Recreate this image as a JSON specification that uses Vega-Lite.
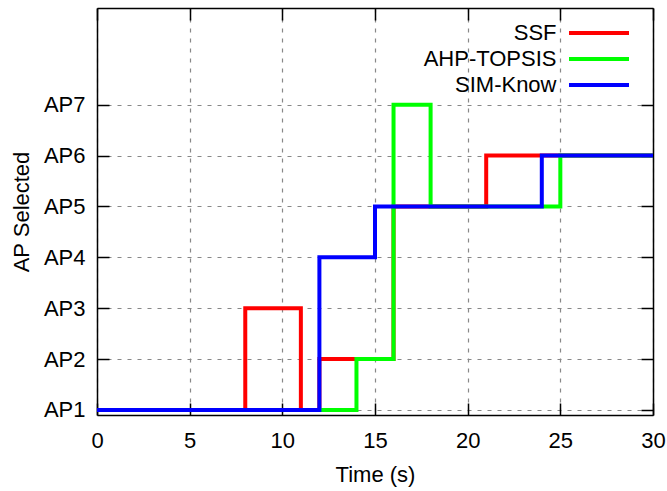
{
  "$schema": "https://vega.github.io/schema/vega-lite/v6.json",
  "width": 556,
  "height": 407,
  "autosize": {"type": "none"},
  "padding": {"left": 97, "top": 8, "right": 14, "bottom": 76},
  "config": {
    "font": "Liberation Sans",
    "view": {"stroke": null},
    "axis": {
      "domainColor": "black",
      "domainWidth": 1.5,
      "tickColor": "black",
      "tickWidth": 1.5,
      "tickSize": -12,
      "labelColor": "black",
      "labelFontSize": 22,
      "titleColor": "black",
      "titleFontSize": 22,
      "titleFontWeight": "normal",
      "gridColor": "#888888",
      "gridDash": [4, 6],
      "gridWidth": 1.2
    }
  },
  "data": {
    "values": [
      {"series": "SSF", "t": 0, "ap": 1},
      {"series": "SSF", "t": 8, "ap": 3},
      {"series": "SSF", "t": 11, "ap": 1},
      {"series": "SSF", "t": 12, "ap": 2},
      {"series": "SSF", "t": 16, "ap": 5},
      {"series": "SSF", "t": 21, "ap": 6},
      {"series": "SSF", "t": 30, "ap": 6},
      {"series": "AHP-TOPSIS", "t": 0, "ap": 1},
      {"series": "AHP-TOPSIS", "t": 14, "ap": 2},
      {"series": "AHP-TOPSIS", "t": 16, "ap": 7},
      {"series": "AHP-TOPSIS", "t": 18, "ap": 5},
      {"series": "AHP-TOPSIS", "t": 25, "ap": 6},
      {"series": "AHP-TOPSIS", "t": 30, "ap": 6},
      {"series": "SIM-Know", "t": 0, "ap": 1},
      {"series": "SIM-Know", "t": 12, "ap": 4},
      {"series": "SIM-Know", "t": 15, "ap": 5},
      {"series": "SIM-Know", "t": 24, "ap": 6},
      {"series": "SIM-Know", "t": 30, "ap": 6}
    ]
  },
  "layer": [
    {
      "encoding": {
        "x": {
          "field": "t", "type": "quantitative",
          "scale": {"domain": [0, 30]},
          "axis": {
            "orient": "bottom",
            "values": [0, 5, 10, 15, 20, 25, 30],
            "grid": true,
            "labelPadding": 27,
            "labelFlush": false,
            "labelAngle": 0,
            "title": "Time (s)",
            "titlePadding": 13
          }
        },
        "y": {
          "field": "ap", "type": "quantitative",
          "scale": {"domain": [0.9, 8.9]},
          "axis": {
            "orient": "left",
            "values": [1, 2, 3, 4, 5, 6, 7],
            "labelExpr": "'AP' + datum.value",
            "grid": true,
            "labelPadding": 24,
            "title": "AP Selected",
            "titlePadding": 10
          }
        },
        "color": {
          "field": "series", "type": "nominal",
          "scale": {"domain": ["SSF", "AHP-TOPSIS", "SIM-Know"], "range": ["#ff0000", "#00ff00", "#0000ff"]},
          "legend": {
            "orient": "none",
            "legendX": 491,
            "legendY": 14,
            "title": null,
            "padding": 0,
            "symbolType": "M-6,0H6",
            "symbolSize": 100,
            "symbolStrokeWidth": 4,
            "labelFontSize": 22,
            "labelColor": "black",
            "labelAlign": "right",
            "labelOffset": -53.5,
            "rowPadding": 4
          }
        },
        "strokeWidth": {
          "field": "series", "type": "nominal",
          "scale": {"domain": ["SSF", "AHP-TOPSIS", "SIM-Know"], "range": [4, 4, 6.5]},
          "legend": {
            "orient": "none",
            "legendX": 491,
            "legendY": 14,
            "title": null,
            "padding": 0,
            "symbolType": "M-6,0H6",
            "symbolSize": 100,
            "labelFontSize": 22,
            "labelColor": "black",
            "labelAlign": "right",
            "labelOffset": -53.5,
            "rowPadding": 4
          }
        }
      },
      "layer": [
        {
          "transform": [{"filter": "datum.series === 'SSF'"}],
          "mark": {"type": "line", "interpolate": "step-after", "strokeJoin": "miter", "strokeCap": "butt"}
        },
        {
          "transform": [{"filter": "datum.series === 'AHP-TOPSIS'"}],
          "mark": {"type": "line", "interpolate": "step-after", "strokeJoin": "miter", "strokeCap": "butt"}
        },
        {
          "transform": [{"filter": "datum.series === 'SIM-Know'"}],
          "mark": {"type": "line", "interpolate": "step-after", "strokeJoin": "miter", "strokeCap": "butt"}
        }
      ]
    },
    {
      "mark": {"type": "point", "opacity": 0},
      "encoding": {
        "x": {
          "field": "t", "type": "quantitative",
          "scale": {"domain": [0, 30]},
          "axis": {"orient": "top", "values": [0, 5, 10, 15, 20, 25, 30], "labels": false, "title": null, "grid": false}
        },
        "y": {
          "field": "ap", "type": "quantitative",
          "scale": {"domain": [0.9, 8.9]},
          "axis": {"orient": "right", "values": [1, 2, 3, 4, 5, 6, 7], "labels": false, "title": null, "grid": false}
        }
      }
    }
  ],
  "resolve": {"axis": {"x": "independent", "y": "independent"}}
}
